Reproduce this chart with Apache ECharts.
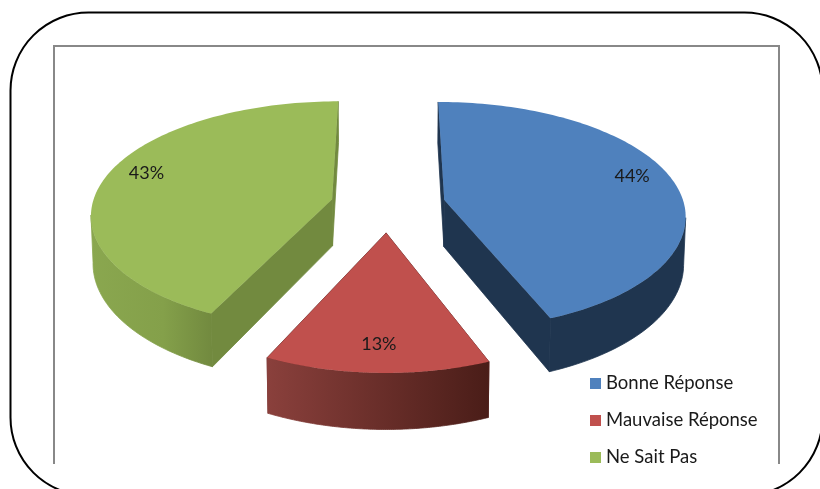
<!DOCTYPE html>
<html>
<head>
<meta charset="utf-8">
<style>html,body{margin:0;padding:0;background:#fff}#c{width:820px;height:489px}</style>
<script src="https://cdn.jsdelivr.net/npm/echarts@6/dist/echarts.min.js"></script>
</head>
<body>
<div id="c"></div>
<script>
const categories = ['Bonne Réponse', 'Mauvaise Réponse', 'Ne Sait Pas'];
const values = [44, 13, 43];
const topColors = ['#4f81bd', '#c0504d', '#9bbb59'];
const cutColors = ['#1f354f', '#6b2b28', '#728a3f'];
const wallStops = [
  [{ offset: 0, color: '#1f354f' }, { offset: 1, color: '#1f354f' }],
  [{ offset: 0, color: '#8a403c' }, { offset: 1, color: '#4a1d18' }],
  [{ offset: 0, color: '#8aa74f' }, { offset: 0.6, color: '#84a04a' }, { offset: 1, color: '#728a3f' }]
];
const labelShift = [-7, 3, -7];

// Projection of the tilted, exploded pie onto the page
const CX = 388, CY = 205, RX = 240, RY = 112.6, PERSP = 0.136, PERSPX = 0.122, DEPTH = 47, EXPLODE = 0.24, TAPER = 0.993;
const total = values.reduce((a, b) => a + b, 0);
function project(X, Y) {
  const w = 1 - PERSP * Y;
  return { x: CX + RX * X / (1 - PERSPX * Y), y: CY + RY * Y / w, w };
}
function topPt(p) { return [p.x, p.y]; }
function botPt(p) { return [CX + (p.x - CX) * TAPER, p.y + DEPTH / p.w]; }

function renderSlice(index) {
  let before = 0;
  for (let i = 0; i < index; i++) before += values[i];
  const a0 = before / total * Math.PI * 2;
  const a1 = (before + values[index]) / total * Math.PI * 2;
  const mid = (a0 + a1) / 2;
  const ox = EXPLODE * Math.sin(mid), oy = -EXPLODE * Math.cos(mid);
  const arc = [];
  const n = 120;
  for (let i = 0; i <= n; i++) {
    const t = a0 + (a1 - a0) * i / n;
    arc.push(project(ox + Math.sin(t), oy - Math.cos(t)));
  }
  const apex = project(ox, oy);
  const first = arc[0], last = arc[n];
  const poly = (points, fill, stroke) => ({
    type: 'polygon', shape: { points }, silent: true,
    style: stroke ? { fill, stroke, lineWidth: 0.8 } : { fill }
  });
  // only the stretch of rim that runs right-to-left while turning clockwise faces the viewer
  const rim = arc.filter((p, i) => (i < n && arc[i + 1].x < p.x) || (i > 0 && p.x < arc[i - 1].x));
  const wall = rim.map(topPt).concat(rim.slice().reverse().map(botPt));
  const rimXs = rim.map(p => p.x);
  const wallFill = new echarts.graphic.LinearGradient(
    Math.min(...rimXs), 0, Math.max(...rimXs), 0, wallStops[index], true);
  const lp = project(ox + 0.82 * Math.sin(mid), oy - 0.8 * Math.cos(mid));
  return {
    type: 'group',
    children: [
      poly([topPt(apex), topPt(first), botPt(first), botPt(apex)], cutColors[index], cutColors[index]),
      poly([topPt(apex), topPt(last), botPt(last), botPt(apex)], cutColors[index], cutColors[index]),
      poly(wall, wallFill, wallFill),
      poly([topPt(apex)].concat(arc.map(topPt)), topColors[index]),
      {
        type: 'text', silent: true,
        style: {
          text: values[index] + '%', x: lp.x, y: lp.y + labelShift[index],
          fill: '#1a1a1a', font: '18px Lato, "Open Sans", sans-serif', align: 'center', verticalAlign: 'middle'
        }
      }
    ]
  };
}

const chart = echarts.init(document.getElementById('c'), null, { renderer: 'canvas' });
chart.setOption({
  animation: false,
  backgroundColor: '#fff',
  legend: {
    orient: 'vertical', left: 590, top: 373, itemWidth: 11, itemHeight: 11, itemGap: 16,
    icon: 'rect', data: categories, selectedMode: false, padding: 0,
    textStyle: { color: '#1a1a1a', fontSize: 18.5, fontFamily: 'Lato, "Open Sans", sans-serif', lineHeight: 21 }
  },
  graphic: [
    { type: 'rect', silent: true, shape: { x: 10.5, y: 12.5, width: 812, height: 483, r: 78 }, style: { fill: 'none', stroke: '#000', lineWidth: 2 } },
    { type: 'polyline', silent: true, shape: { points: [[54, 464], [54, 46], [779, 46], [779, 464]] }, style: { fill: 'none', stroke: '#888', lineWidth: 2 } }
  ],
  series: categories.map((name, i) => ({
    type: 'custom', name, coordinateSystem: 'none',
    itemStyle: { color: topColors[i] },
    data: [values[i]],
    renderItem: () => renderSlice(i)
  }))
});
</script>
</body>
</html>
